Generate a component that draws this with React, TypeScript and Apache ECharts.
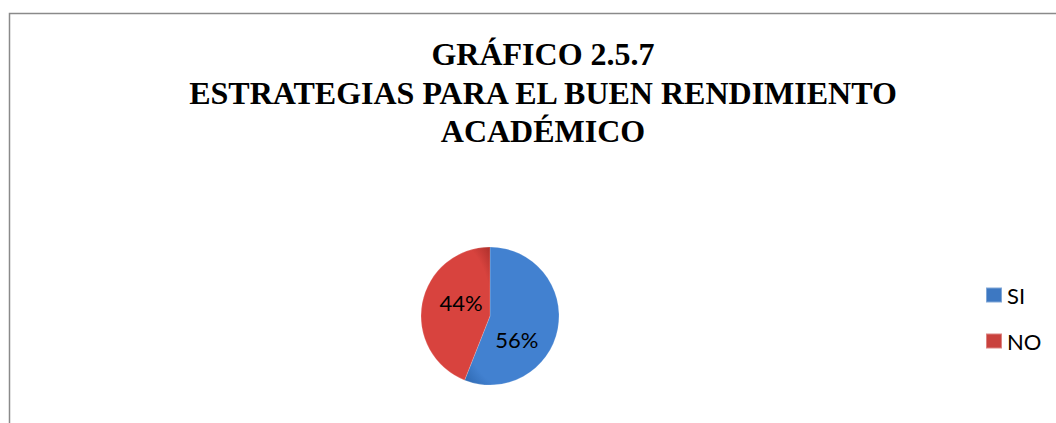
import React, { useEffect, useRef } from "react";
import * as echarts from "echarts";

const titleLines = ["GRÁFICO 2.5.7", "ESTRATEGIAS PARA EL BUEN RENDIMIENTO", "ACADÉMICO"];
const categories = ["SI", "NO"];
const percentValues = [56, 44];

function sliceColor(base: string, edge: string) {
  return new echarts.graphic.RadialGradient(0.5, 0.5, 0.7, [
    { offset: 0, color: base },
    { offset: 0.75, color: base },
    { offset: 1, color: edge },
  ]);
}

export default function App() {
  const ref = useRef<HTMLDivElement>(null);
  useEffect(() => {
    if (!ref.current) return;
    const chart = echarts.init(ref.current, null, { renderer: "svg" });
    const colors = [
      sliceColor("#4281D0", "#2C66AE"),
      sliceColor("#D8433E", "#AE302C"),
    ];
    const legendColors = ["#3D78C2", "#C9413D"];
    const labelOffsets = [
      [-10, 16],
      [8, -6],
    ];
    chart.setOption({
      animation: false,
      backgroundColor: "#ffffff",
      title: {
        text: titleLines.join("\n"),
        left: 538,
        top: 30,
        textAlign: "center",
        textStyle: {
          fontFamily: "Liberation Serif",
          fontWeight: "bold",
          fontSize: 32,
          lineHeight: 38.5,
          color: "#000000",
        },
      },
      legend: {
        orient: "vertical",
        left: 985,
        top: 284,
        padding: 0,
        itemWidth: 16,
        itemHeight: 15,
        itemGap: 24,
        icon: "rect",
        data: categories.map((c, i) => ({
          name: c,
          itemStyle: { color: legendColors[i] },
        })),
        textStyle: {
          fontFamily: "Lato",
          fontSize: 22,
          color: "#000000",
        },
      },
      graphic: [
        {
          type: "polyline",
          shape: {
            points: [
              [9.5, 423],
              [9.5, 13.5],
              [1056, 13.5],
            ],
          },
          style: { stroke: "#8a8a8a", lineWidth: 1.5, fill: null },
          silent: true,
        },
      ],
      series: [
        {
          type: "pie",
          center: [490, 316],
          radius: 69,
          startAngle: 90,
          clockwise: true,
          data: categories.map((c, i) => ({
            name: c,
            value: percentValues[i],
            itemStyle: { color: colors[i] },
            label: { offset: labelOffsets[i] },
          })),
          label: {
            show: true,
            position: "inside",
            formatter: "{c}%",
            fontFamily: "Lato",
            fontSize: 22,
            color: "#000000",
          },
          labelLine: { show: false },
          itemStyle: { borderColor: "rgba(255,255,255,0.35)", borderWidth: 0.5 },
          emphasis: { disabled: true },
        },
      ],
    });
    return () => chart.dispose();
  }, []);
  return (
    <div
      ref={ref}
      style={{ position: "fixed", left: 0, top: 0, width: 1056, height: 423 }}
    />
  );
}
